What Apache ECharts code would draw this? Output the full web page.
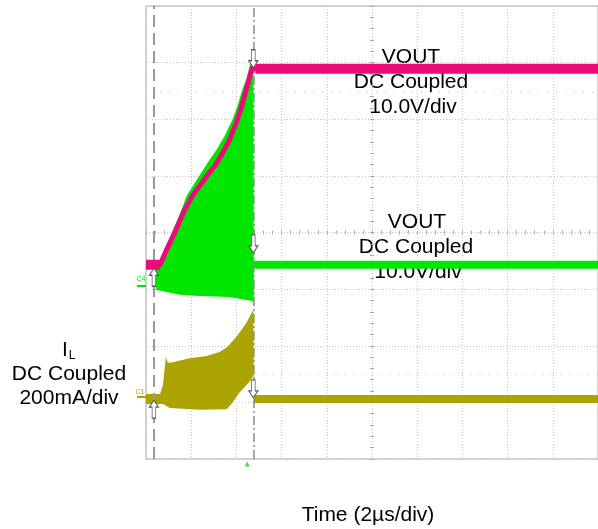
<!DOCTYPE html>
<html><head><meta charset="utf-8">
<script src="https://cdn.jsdelivr.net/npm/echarts@6/dist/echarts.min.js"></script>
<style>html,body{margin:0;padding:0;background:#fff}#c{width:598px;height:529px}</style>
</head><body><div id="c"></div>
<script>
// time in microseconds (2 us/div), amplitude in screen divisions (0..8 from bottom)
const pinkT = [0, 0.62, 0.70, 0.88, 1.06, 1.36, 1.71, 2.07, 2.37, 2.73, 3.03, 3.34, 3.69, 4.04, 4.26, 4.48, 4.70, 4.84, 20];
const pinkV = [3.43, 3.43, 3.50, 3.67, 3.82, 4.08, 4.40, 4.66, 4.82, 5.02, 5.17, 5.37, 5.63, 5.99, 6.27, 6.59, 6.91, 6.89, 6.89];

const greenUpT = [0, 0.40, 0.62, 0.79, 0.97, 1.19, 1.50, 1.80, 2.15, 2.51, 2.81, 3.12, 3.47, 3.82, 4.04, 4.26, 4.44, 4.57, 4.66, 4.75, 4.77, 20];
const greenUpV = [3.48, 3.48, 3.48, 3.60, 3.78, 4.04, 4.33, 4.65, 4.87, 5.10, 5.28, 5.46, 5.70, 5.99, 6.23, 6.52, 6.71, 6.91, 7.05, 7.19, 3.50, 3.50];
const greenLoT = [0, 0.40, 0.44, 1.50, 2.37, 3.69, 4.70, 4.77, 4.77, 20];
const greenLoV = [3.36, 3.36, 2.99, 2.90, 2.88, 2.86, 2.79, 2.79, 3.36, 3.36];

const oliveUpT = [0, 0.62, 0.75, 0.88, 0.97, 1.19, 1.93, 2.68, 3.25, 3.60, 4.00, 4.44, 4.70, 4.75, 4.77, 20];
const oliveUpV = [1.15, 1.15, 1.31, 1.80, 1.70, 1.71, 1.78, 1.82, 1.89, 1.98, 2.16, 2.40, 2.60, 2.63, 1.13, 1.13];
const oliveLoT = [0, 0.62, 0.75, 1.06, 2.37, 3.56, 3.78, 4.13, 4.57, 4.75, 4.77, 20];
const oliveLoV = [0.97, 0.97, 0.97, 0.90, 0.87, 0.88, 0.97, 1.17, 1.36, 1.47, 0.99, 0.99];

const cursorT = [0.35, 4.75];
const arrowT = [4.75, 4.75, 0.35, 0.35, 4.75];
const arrowV = [6.91, 3.64, 3.37, 1.04, 1.08];
const arrowDir = ['down', 'down', 'up', 'up', 'down'];
const triggerT = 4.48;
const refLevels = [[0.62, 6.48], [4.8, 1.50]];

const PINK = '#EC0A7A', GREEN = '#00E600', OLIVE = '#ABA300';

function zip(a, b) { return a.map((x, i) => [x, b[i]]); }

function band(name, tu, vu, tl, vl, color, z) {
  return {
    type: 'custom', name: name, coordinateSystem: 'cartesian2d', xAxisIndex: 0, yAxisIndex: 0,
    data: [[0, 0]], silent: true, z: z, clip: true,
    renderItem: function (params, api) {
      const pts = [];
      for (let i = 0; i < tu.length; i++) pts.push(api.coord([tu[i], vu[i]]));
      for (let i = tl.length - 1; i >= 0; i--) pts.push(api.coord([tl[i], vl[i]]));
      return { type: 'polygon', shape: { points: pts }, style: { fill: color } };
    }
  };
}

const ARROW = 'path://M3,0 L7,0 L7,11 L10,11 L5,18 L0,11 L3,11 Z';
const chart = echarts.init(document.getElementById('c'));
const FONT = '"Liberation Sans", Arial, sans-serif';

const pinkFlat = zip(pinkT.slice(0, 2), pinkV.slice(0, 2)).concat([[null, null]], zip(pinkT.slice(-2), pinkV.slice(-2)));

const helperTick = { show: true, inside: true, length: 2, lineStyle: { color: '#aaa' } };
const helperMinor = { show: true, splitNumber: 5, length: 2, lineStyle: { color: '#aaa' } };

chart.setOption({
  animation: false,
  backgroundColor: '#fff',
  grid: { left: 146, top: 6, width: 455, height: 453, show: true, borderColor: '#a8a8a8', borderWidth: 1, backgroundColor: 'transparent' },
  xAxis: [
    { type: 'value', min: 0, max: 20, interval: 2, axisLine: { show: false, onZero: false }, axisTick: { show: false }, axisLabel: { show: false },
      splitLine: { show: true, lineStyle: { color: '#c4c4c4', type: [1, 2], width: 1 } } },
    { type: 'value', min: 0, max: 20, interval: 2, position: 'bottom', axisLine: { show: false, onZero: true, onZeroAxisIndex: 1 },
      axisTick: helperTick, minorTick: helperMinor, axisLabel: { show: false }, splitLine: { show: false } },
    { type: 'value', min: 0, max: 20, interval: 2, position: 'top', axisLine: { show: false, onZero: true, onZeroAxisIndex: 1 },
      axisTick: helperTick, minorTick: helperMinor, axisLabel: { show: false }, splitLine: { show: false } },
    { type: 'value', min: -10, max: 10, show: false, axisLine: { onZero: false } }
  ],
  yAxis: [
    { type: 'value', min: 0, max: 8, interval: 1, axisLine: { show: false, onZero: false }, axisTick: { show: false }, axisLabel: { show: false },
      splitLine: { show: true, lineStyle: { color: '#c4c4c4', type: [1, 2], width: 1 } } },
    { type: 'value', min: -4, max: 4, show: false, axisLine: { onZero: false } },
    { type: 'value', min: 0, max: 8, interval: 1, position: 'left', axisLine: { show: false, onZero: true, onZeroAxisIndex: 3 },
      axisTick: helperTick, minorTick: helperMinor, axisLabel: { show: false }, splitLine: { show: false } },
    { type: 'value', min: 0, max: 8, interval: 1, position: 'right', axisLine: { show: false, onZero: true, onZeroAxisIndex: 3 },
      axisTick: helperTick, minorTick: helperMinor, axisLabel: { show: false }, splitLine: { show: false } }
  ],
  series: [
    band('IL', oliveUpT, oliveUpV, oliveLoT, oliveLoV, OLIVE, 3),
    band('VOUT2', greenUpT, greenUpV, greenLoT, greenLoV, GREEN, 4),
    { type: 'line', name: 'VOUT', data: zip(pinkT, pinkV), showSymbol: false, z: 5, silent: true,
      lineStyle: { color: PINK, width: 5, join: 'round' } },
    { type: 'line', name: 'VOUTflat', data: pinkFlat, showSymbol: false, z: 5, silent: true, connectNulls: false,
      lineStyle: { color: PINK, width: 10 } },
    { type: 'line', name: 'cursors', data: [], z: 6, silent: true,
      markLine: { symbol: 'none', silent: true, label: { show: false }, animation: false,
        data: [
          { xAxis: cursorT[0], lineStyle: { color: '#9a9a9a', width: 2, type: [12, 6] } },
          { xAxis: cursorT[1], lineStyle: { color: '#8a8a8a', width: 1.5, type: [9, 3, 2, 3] } },
          [{ coord: [refLevels[0][0], refLevels[0][1]], lineStyle: { color: '#bbb', width: 1, type: [1, 8] } }, { coord: [20, refLevels[0][1]] }],
          [{ coord: [refLevels[1][0], refLevels[1][1]], lineStyle: { color: '#bbb', width: 1, type: [1, 8] } }, { coord: [20, refLevels[1][1]] }]
        ] } },
    { type: 'scatter', name: 'arrows', z: 7, silent: true, clip: false,
      data: arrowT.map((t, i) => ({ value: [t, arrowV[i]], symbolRotate: arrowDir[i] === 'up' ? 180 : 0,
        symbolOffset: [0, arrowDir[i] === 'up' ? '50%' : '-50%'] })),
      symbol: ARROW, symbolSize: [9, 18],
      itemStyle: { color: '#fff', borderColor: '#555', borderWidth: 1, opacity: 1 } },
    { type: 'scatter', name: 'trigger', z: 7, silent: true, clip: false,
      data: [[triggerT, 0]], symbol: 'triangle', symbolSize: [5, 5], symbolOffset: [0, 5],
      itemStyle: { color: '#22cc22' } }
  ],
  graphic: [
    { type: 'text', style: { text: 'VOUT', x: 411, y: 57, font: '21px ' + FONT, fill: '#000', textAlign: 'center', textVerticalAlign: 'middle' } },
    { type: 'text', style: { text: 'DC Coupled', x: 411, y: 82, font: '21px ' + FONT, fill: '#000', textAlign: 'center', textVerticalAlign: 'middle' } },
    { type: 'text', style: { text: '10.0V/div', x: 413, y: 107, font: '21px ' + FONT, fill: '#000', textAlign: 'center', textVerticalAlign: 'middle' } },
    { type: 'text', style: { text: 'VOUT', x: 417, y: 222, font: '21px ' + FONT, fill: '#000', textAlign: 'center', textVerticalAlign: 'middle' } },
    { type: 'text', style: { text: 'DC Coupled', x: 416, y: 247, font: '21px ' + FONT, fill: '#000', textAlign: 'center', textVerticalAlign: 'middle' } },
    { type: 'text', style: { text: '10.0V/div', x: 418, y: 272, font: '21px ' + FONT, fill: '#000', textAlign: 'center', textVerticalAlign: 'middle' } },
    { type: 'text', style: { text: 'I', x: 65, y: 350, font: '21px ' + FONT, fill: '#000', textAlign: 'center', textVerticalAlign: 'middle' } },
    { type: 'text', style: { text: 'L', x: 72, y: 356, font: '12px ' + FONT, fill: '#000', textAlign: 'center', textVerticalAlign: 'middle' } },
    { type: 'text', style: { text: 'DC Coupled', x: 69, y: 374, font: '21px ' + FONT, fill: '#000', textAlign: 'center', textVerticalAlign: 'middle' } },
    { type: 'text', style: { text: '200mA/div', x: 69, y: 398, font: '21px ' + FONT, fill: '#000', textAlign: 'center', textVerticalAlign: 'middle' } },
    { type: 'text', style: { text: 'Time (2µs/div)', x: 368, y: 515, font: '21px ' + FONT, fill: '#000', textAlign: 'center', textVerticalAlign: 'middle' } },
    { type: 'text', style: { text: 'C4', x: 141, y: 279, font: '7px ' + FONT, fill: GREEN, textAlign: 'center', textVerticalAlign: 'middle' } },
    { type: 'line', shape: { x1: 137, y1: 286, x2: 146, y2: 286 }, style: { stroke: GREEN, lineWidth: 2 } },
    { type: 'text', style: { text: 'C1', x: 140, y: 392, font: '7px ' + FONT, fill: OLIVE, textAlign: 'center', textVerticalAlign: 'middle' } },
    { type: 'line', shape: { x1: 137, y1: 397, x2: 146, y2: 397 }, style: { stroke: OLIVE, lineWidth: 2 } }
  ]
});
</script></body></html>
